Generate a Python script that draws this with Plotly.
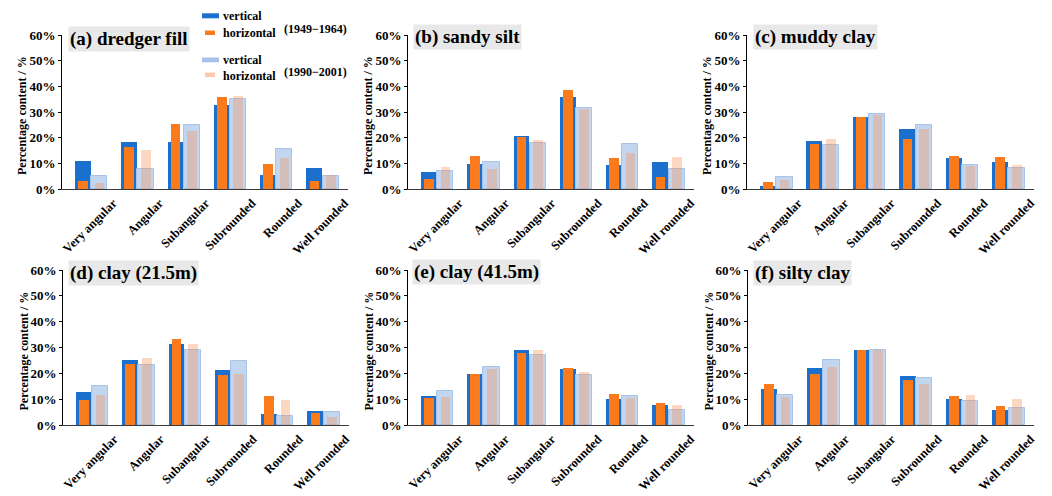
import plotly.graph_objects as go

# Particle roundness classes (x-axis categories)
categories = ["Very angular", "Angular", "Subangular", "Subrounded", "Rounded", "Well rounded"]

panel_titles = ["(a) dredger fill", "(b) sandy silt", "(c) muddy clay",
                "(d) clay (21.5m)", "(e) clay (41.5m)", "(f) silty clay"]

y_ticks = [0, 10, 20, 30, 40, 50, 60]
y_tick_labels = ["0%", "10%", "20%", "30%", "40%", "50%", "60%"]

# Percentage content (%) per panel, one row per panel (a)-(f)
vertical_1949 = [
    [11.0, 18.3, 18.3, 32.6, 5.4, 8.3],
    [6.5, 9.6, 20.6, 36.0, 9.3, 10.4],
    [1.0, 18.8, 28.0, 23.5, 12.2, 10.4],
    [12.8, 25.1, 31.4, 21.2, 4.1, 5.4],
    [11.3, 19.7, 29.0, 21.7, 10.2, 7.9],
    [13.8, 22.1, 29.0, 18.9, 10.0, 5.7],
]
horizontal_1949 = [
    [3.1, 16.5, 25.4, 35.8, 9.7, 3.1],
    [4.0, 12.9, 20.2, 38.7, 12.2, 4.5],
    [2.8, 17.5, 28.0, 19.6, 12.8, 12.4],
    [9.8, 23.8, 33.1, 19.3, 11.1, 4.7],
    [10.5, 19.7, 27.9, 22.1, 11.9, 8.5],
    [15.7, 19.9, 29.0, 17.3, 11.1, 7.4],
]
vertical_1990 = [
    [5.2, 7.8, 25.0, 35.0, 15.4, 5.2],
    [7.1, 10.5, 17.9, 31.6, 17.7, 7.7],
    [4.7, 17.2, 29.3, 25.0, 9.4, 8.0],
    [15.0, 23.2, 29.2, 24.8, 3.5, 4.9],
    [13.1, 22.3, 27.1, 19.5, 11.4, 6.0],
    [11.8, 25.1, 29.0, 18.2, 9.3, 6.5],
]
horizontal_1990 = [
    [2.5, 15.2, 22.7, 36.2, 12.0, 5.5],
    [8.5, 7.9, 19.0, 31.3, 14.1, 12.3],
    [3.6, 19.5, 28.8, 23.5, 9.1, 9.4],
    [11.5, 26.1, 31.3, 19.9, 9.6, 3.1],
    [10.9, 21.6, 29.0, 20.4, 10.5, 7.9],
    [10.9, 22.3, 29.0, 15.8, 11.5, 10.1],
]

W, H = 1052, 496
SERIF = "Liberation Serif"

BLUE = "#1a70cc"
ORANGE = "#fb7a1c"
LIGHT_BLUE = "#c2d6ef"
LIGHT_BLUE_EDGE = "#a9c3e8"
LIGHT_ORANGE = "rgba(247,148,88,0.36)"

# pixel boxes of each plot area: (left, right, top, bottom)
boxes = [
    (62, 348, 35, 189), (408, 694, 35, 189), (747, 1034, 35, 189),
    (63, 349, 270, 425), (408, 694, 270, 425), (748, 1034, 270, 425),
]
title_pos = [(68, 39), (413, 37.5), (753, 37.5), (68, 272.5), (412, 271.5), (753, 272.5)]


def px(x):
    return x / W


def py(y):
    return 1 - y / H


fig = go.Figure()

series = [
    (vertical_1949, BLUE, -0.35, 0.34, None),
    (horizontal_1949, ORANGE, -0.28, 0.21, None),
    (vertical_1990, LIGHT_BLUE, 0.0, 0.35, LIGHT_BLUE_EDGE),
    (horizontal_1990, LIGHT_ORANGE, 0.075, 0.21, None),
]

annotations = []
for i in range(6):
    sfx = "" if i == 0 else str(i + 1)
    for values, color, offset, width, edge in series:
        fig.add_trace(go.Bar(
            x=categories, y=values[i],
            xaxis="x" + sfx, yaxis="y" + sfx,
            offset=offset, width=width,
            marker=dict(color=color,
                        line=dict(color=edge or color, width=1 if edge else 0)),
            showlegend=False, hoverinfo="skip",
        ))
    left, right, top, bottom = boxes[i]
    fig.layout["xaxis" + sfx] = dict(
        domain=[px(left), px(right)], anchor="y" + sfx, automargin=False,
        type="category", categoryorder="array", categoryarray=categories,
        range=[-0.63, 5.55],
        showline=True, linecolor="#3a3a3a", linewidth=1,
        ticks="", showgrid=False, zeroline=False,
        tickangle=-45, ticklabelshift=22, ticklabelstandoff=1,
        tickfont=dict(family=SERIF, size=12.5, color="black", weight="bold"),
    )
    fig.layout["yaxis" + sfx] = dict(
        domain=[py(bottom), py(top)], anchor="x" + sfx, automargin=False,
        range=[0, 60], tickmode="array", tickvals=y_ticks, ticktext=y_tick_labels,
        showline=True, linecolor="black", linewidth=1,
        ticks="outside", ticklen=3, tickcolor="black",
        showgrid=False, zeroline=False,
        tickfont=dict(family=SERIF, size=13, color="black", weight="bold"),
    )
    tx, ty = title_pos[i]
    annotations.append(dict(
        text=panel_titles[i], xref="paper", yref="paper",
        x=px(tx), y=py(ty), xanchor="left", yanchor="middle",
        showarrow=False, bgcolor="#e8e8e8", borderpad=1,
        font=dict(family=SERIF, size=19, color="black", weight="bold"),
    ))
    annotations.append(dict(
        text="Percentage content / %", xref="paper", yref="paper",
        x=px(left - 40), y=py((top + bottom) / 2 + 4),
        xanchor="center", yanchor="middle", textangle=-90, showarrow=False,
        font=dict(family=SERIF, size=12, color="black", weight="bold"),
    ))

# legend block
shapes = []
legend_rows = [
    ("vertical", BLUE, 202, 219, 13.3, 18.3, 16),
    ("horizontal", ORANGE, 205, 215, 30.5, 35.0, 33),
    ("vertical", "#a6c2ea", 202, 219, 57.5, 62.3, 60),
    ("horizontal", "#fdc9a8", 205, 215, 72.6, 77.0, 76),
]
for label, color, x0, x1, y0, y1, yt in legend_rows:
    shapes.append(dict(type="rect", xref="paper", yref="paper",
                       x0=px(x0), x1=px(x1), y0=py(y1), y1=py(y0),
                       fillcolor=color, line=dict(width=0)))
    annotations.append(dict(
        text=label, xref="paper", yref="paper", x=px(221), y=py(yt),
        xanchor="left", yanchor="middle", showarrow=False,
        font=dict(family=SERIF, size=12, color="black", weight="bold"),
    ))
for period, yt in [("(1949\u22121964)", 28.5), ("(1990\u22122001)", 72)]:
    annotations.append(dict(
        text=period, xref="paper", yref="paper", x=px(282), y=py(yt),
        xanchor="left", yanchor="middle", showarrow=False,
        font=dict(family=SERIF, size=12, color="black", weight="bold"),
    ))

fig.update_layout(
    width=W, height=H, margin=dict(l=0, r=0, t=0, b=0),
    barmode="overlay", bargap=0,
    paper_bgcolor="white", plot_bgcolor="white",
    annotations=annotations, shapes=shapes,
    font=dict(family=SERIF, color="black"),
)

fig.write_html("out.html")
